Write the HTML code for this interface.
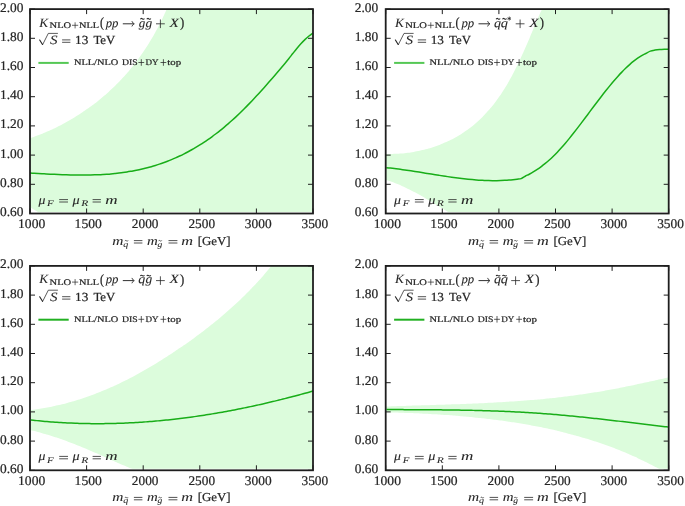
<!DOCTYPE html><html><head><meta charset="utf-8"><style>html,body{margin:0;padding:0;background:#fff;overflow:hidden;}svg{display:block;will-change:transform;}text{font-family:"Liberation Serif",serif;fill:#262626;text-rendering:geometricPrecision;stroke:#262626;stroke-width:0.22px;}text[font-style=italic]{stroke-width:0.08px;}</style></head><body>
<svg width="685" height="506" viewBox="0 0 685 506">
<defs>
<clipPath id="c0"><rect x="30.00" y="9.10" width="282.40" height="202.80"/></clipPath>
<clipPath id="c1"><rect x="385.70" y="9.10" width="282.40" height="202.80"/></clipPath>
<clipPath id="c2"><rect x="30.00" y="265.90" width="282.40" height="202.80"/></clipPath>
<clipPath id="c3"><rect x="385.70" y="265.90" width="282.40" height="202.80"/></clipPath>
</defs>
<g clip-path="url(#c0)"><path d="M24.92,137.97 L30.92,137.97 C31.40,137.80 32.84,137.29 33.79,136.94 C34.75,136.59 35.70,136.24 36.65,135.87 C37.60,135.51 38.55,135.15 39.50,134.77 C40.44,134.40 41.38,134.02 42.32,133.63 C43.26,133.25 44.20,132.85 45.13,132.46 C46.07,132.06 47.00,131.65 47.92,131.24 C48.85,130.83 49.78,130.42 50.70,129.99 C51.62,129.57 52.54,129.14 53.45,128.71 C54.37,128.28 55.28,127.84 56.19,127.39 C57.10,126.94 58.01,126.49 58.91,126.03 C59.81,125.58 60.71,125.11 61.61,124.64 C62.50,124.17 63.40,123.70 64.29,123.22 C65.18,122.74 66.06,122.25 66.94,121.76 C67.83,121.27 68.71,120.77 69.58,120.26 C70.46,119.76 71.33,119.25 72.20,118.74 C73.07,118.22 73.93,117.70 74.79,117.17 C75.65,116.65 76.51,116.12 77.37,115.58 C78.22,115.04 79.07,114.50 79.92,113.95 C80.76,113.40 81.60,112.85 82.44,112.29 C83.28,111.73 84.12,111.16 84.95,110.59 C85.78,110.02 86.60,109.44 87.43,108.86 C88.25,108.28 89.07,107.69 89.88,107.10 C90.70,106.51 91.51,105.91 92.32,105.31 C93.12,104.71 93.92,104.10 94.72,103.49 C95.52,102.87 96.31,102.25 97.10,101.63 C97.89,101.01 98.68,100.38 99.46,99.74 C100.24,99.11 101.02,98.47 101.79,97.82 C102.56,97.18 103.33,96.53 104.09,95.87 C104.86,95.22 105.61,94.56 106.37,93.89 C107.12,93.23 107.87,92.56 108.62,91.88 C109.36,91.21 110.10,90.53 110.84,89.84 C111.57,89.16 112.30,88.47 113.03,87.77 C113.76,87.08 114.48,86.38 115.19,85.67 C115.91,84.97 116.62,84.26 117.33,83.54 C118.04,82.83 118.74,82.11 119.44,81.38 C120.13,80.66 120.82,79.93 121.51,79.19 C122.20,78.46 122.88,77.72 123.56,76.98 C124.23,76.23 124.91,75.49 125.57,74.73 C126.24,73.98 126.90,73.22 127.56,72.46 C128.21,71.70 128.86,70.93 129.51,70.16 C130.15,69.39 130.80,68.61 131.43,67.83 C132.07,67.05 132.70,66.27 133.32,65.48 C133.95,64.69 134.57,63.90 135.18,63.10 C135.80,62.30 136.41,61.50 137.01,60.69 C137.62,59.89 138.22,59.08 138.81,58.26 C139.40,57.45 139.99,56.63 140.58,55.81 C141.16,54.99 141.74,54.16 142.31,53.33 C142.89,52.50 143.46,51.67 144.02,50.83 C144.58,50.00 145.14,49.16 145.69,48.31 C146.25,47.47 146.79,46.62 147.34,45.77 C147.88,44.91 148.42,44.06 148.95,43.20 C149.48,42.34 150.01,41.48 150.53,40.61 C151.05,39.75 151.57,38.88 152.08,38.01 C152.59,37.14 153.10,36.26 153.60,35.38 C154.10,34.50 154.59,33.62 155.09,32.74 C155.58,31.85 156.06,30.96 156.54,30.07 C157.02,29.18 157.50,28.29 157.97,27.39 C158.44,26.49 158.90,25.59 159.36,24.69 C159.82,23.79 160.27,22.88 160.72,21.97 C161.17,21.07 161.62,20.16 162.05,19.24 C162.49,18.33 162.93,17.41 163.35,16.49 C163.78,15.58 164.20,14.65 164.62,13.73 C165.04,12.81 165.45,11.88 165.86,10.95 C166.27,10.02 166.67,9.09 167.06,8.16 C167.46,7.23 167.85,6.29 168.24,5.35 C168.63,4.42 169.01,3.48 169.38,2.54 C169.76,1.59 170.31,0.18 170.49,-0.30 L318.00,-0.90 L318.00,223.50 L45.00,223.50 L45.00,216.00 C43.83,215.33 40.33,213.38 38.00,212.00 C35.67,210.62 32.67,208.78 31.00,207.70 C29.33,206.62 28.50,205.87 28.00,205.50 L22.00,205.50 Z" fill="#dcfcdc"/></g>
<path d="M30.00,173.06 C30.67,173.10 32.70,173.21 34.04,173.28 C35.39,173.35 36.74,173.42 38.09,173.50 C39.43,173.57 40.78,173.64 42.13,173.71 C43.48,173.78 44.82,173.85 46.17,173.92 C47.52,173.99 48.87,174.06 50.21,174.13 C51.56,174.19 52.91,174.26 54.26,174.32 C55.60,174.38 56.95,174.44 58.30,174.50 C59.65,174.56 61.00,174.61 62.34,174.66 C63.69,174.71 65.04,174.76 66.39,174.80 C67.73,174.84 69.08,174.88 70.43,174.91 C71.78,174.94 73.12,174.97 74.47,175.00 C75.82,175.02 77.17,175.04 78.51,175.05 C79.86,175.06 81.21,175.07 82.56,175.07 C83.90,175.07 85.25,175.06 86.60,175.05 C87.95,175.03 89.30,175.01 90.64,174.98 C91.99,174.95 93.34,174.92 94.69,174.87 C96.03,174.83 97.38,174.78 98.73,174.72 C100.08,174.66 101.42,174.59 102.77,174.51 C104.12,174.43 105.47,174.34 106.81,174.24 C108.16,174.14 109.51,174.04 110.86,173.92 C112.20,173.80 113.55,173.67 114.90,173.53 C116.25,173.39 117.60,173.24 118.94,173.08 C120.29,172.91 121.64,172.74 122.99,172.55 C124.33,172.37 125.68,172.17 127.03,171.96 C128.38,171.75 129.72,171.52 131.07,171.29 C132.42,171.05 133.77,170.80 135.11,170.54 C136.46,170.27 137.81,169.99 139.16,169.70 C140.50,169.41 141.85,169.10 143.20,168.78 C144.55,168.46 145.90,168.12 147.24,167.77 C148.59,167.42 149.94,167.05 151.29,166.67 C152.63,166.28 153.98,165.88 155.33,165.46 C156.68,165.05 158.02,164.61 159.37,164.16 C160.72,163.71 162.07,163.24 163.41,162.76 C164.76,162.27 166.11,161.77 167.46,161.25 C168.80,160.72 170.15,160.18 171.50,159.62 C172.85,159.06 174.20,158.49 175.54,157.89 C176.89,157.29 178.24,156.67 179.59,156.04 C180.93,155.40 182.28,154.75 183.63,154.07 C184.98,153.39 186.32,152.70 187.67,151.98 C189.02,151.26 190.37,150.53 191.71,149.77 C193.06,149.01 194.41,148.23 195.76,147.43 C197.10,146.63 198.45,145.81 199.80,144.97 C201.15,144.12 202.50,143.26 203.84,142.37 C205.19,141.48 206.54,140.57 207.89,139.64 C209.23,138.71 210.58,137.75 211.93,136.77 C213.28,135.79 214.62,134.79 215.97,133.77 C217.32,132.74 218.67,131.70 220.01,130.62 C221.36,129.55 222.71,128.45 224.06,127.33 C225.40,126.21 226.75,125.07 228.10,123.90 C229.45,122.73 230.80,121.53 232.14,120.31 C233.49,119.10 234.84,117.85 236.19,116.59 C237.53,115.32 238.88,114.03 240.23,112.72 C241.58,111.41 242.92,110.08 244.27,108.73 C245.62,107.38 246.97,106.01 248.31,104.62 C249.66,103.23 251.01,101.82 252.36,100.40 C253.70,98.97 255.05,97.53 256.40,96.08 C257.75,94.62 259.10,93.15 260.44,91.66 C261.79,90.18 263.14,88.68 264.49,87.16 C265.83,85.65 267.18,84.12 268.53,82.59 C269.88,81.05 271.22,79.50 272.57,77.95 C273.92,76.39 275.27,74.82 276.61,73.25 C277.96,71.67 279.31,70.09 280.66,68.50 C282.00,66.90 283.35,65.30 284.70,63.66 C286.05,62.03 287.40,60.38 288.74,58.70 C290.09,57.02 291.44,55.28 292.79,53.58 C294.13,51.88 295.48,50.14 296.83,48.52 C298.18,46.89 299.52,45.29 300.87,43.81 C302.22,42.33 303.57,40.94 304.91,39.64 C306.26,38.33 307.61,37.12 308.96,36.01 C310.30,34.89 312.33,33.45 313.00,32.94" fill="none" stroke="#18ad18" stroke-width="1.5"/>
<rect x="30.00" y="9.10" width="283.00" height="204.40" fill="none" stroke="#1e1e1e" stroke-width="1.8"/>
<path d="M30.00,9.10h5M313.00,9.10h-5M30.00,38.30h5M313.00,38.30h-5M30.00,67.50h5M313.00,67.50h-5M30.00,96.70h5M313.00,96.70h-5M30.00,125.90h5M313.00,125.90h-5M30.00,155.10h5M313.00,155.10h-5M30.00,184.30h5M313.00,184.30h-5M30.00,213.50h5M313.00,213.50h-5M30.00,9.10v5M30.00,213.50v-5M86.60,9.10v5M86.60,213.50v-5M143.20,9.10v5M143.20,213.50v-5M199.80,9.10v5M199.80,213.50v-5M256.40,9.10v5M256.40,213.50v-5M313.00,9.10v5M313.00,213.50v-5" stroke="#1e1e1e" stroke-width="1.0" fill="none"/>
<path d="M38.40,62.90H68.70" stroke="#55c855" stroke-width="2"/>
<path d="M39.70,40.00L42.50,44.50" fill="none" stroke="#262626" stroke-width="1.15" stroke-linecap="round"/>
<path d="M42.50,44.90L48.30,33.40H57.90" fill="none" stroke="#262626" stroke-width="0.75"/>
<path d="M138.40,62.50h5.8M141.30,59.20v6.6" stroke="#262626" stroke-width="0.75" fill="none"/>
<path d="M160.50,62.50h5.8M163.40,59.20v6.6" stroke="#262626" stroke-width="0.75" fill="none"/>
<path d="M59.20,199.60H68.00M59.20,202.00H68.00" stroke="#262626" stroke-width="0.8" fill="none"/>
<path d="M92.60,199.60H100.90M92.60,202.00H100.90" stroke="#262626" stroke-width="0.8" fill="none"/>
<path d="M62.10,39.90H70.40M62.10,42.30H70.40" stroke="#262626" stroke-width="0.8" fill="none"/>
<path d="M72.00,25.30H78.20M75.10,22.30V28.40" stroke="#262626" stroke-width="0.7" fill="none"/>
<path d="M122.80,23.80H133.60" stroke="#262626" stroke-width="0.95" fill="none"/>
<path d="M132.00,21.50 q0.5,1.7 2.3,2.3 q-1.8,0.6 -2.3,2.3" stroke="#262626" stroke-width="0.85" fill="none" stroke-linecap="round"/>
<path d="M133.90,240.60H142.40M133.90,243.00H142.40" stroke="#262626" stroke-width="0.8" fill="none"/>
<path d="M168.50,240.60H177.40M168.50,243.00H177.40" stroke="#262626" stroke-width="0.8" fill="none"/>
<path d="M124.90,241.10 c0.5,-0.8 1,-0.8 1.6,-0.3 s1.1,0.5 1.6,-0.3" fill="none" stroke="#262626" stroke-width="0.8"/>
<path d="M158.50,241.10 c0.5,-0.8 1,-0.8 1.6,-0.3 s1.1,0.5 1.6,-0.3" fill="none" stroke="#262626" stroke-width="0.8"/>
<g clip-path="url(#c1)"><path d="M380.22,153.97 L386.22,153.97 C386.73,153.97 388.27,154.00 389.29,154.00 C390.32,153.99 391.34,153.98 392.37,153.96 C393.39,153.94 394.42,153.91 395.44,153.86 C396.46,153.82 397.49,153.76 398.51,153.70 C399.53,153.63 400.55,153.55 401.57,153.47 C402.59,153.38 403.60,153.28 404.62,153.17 C405.64,153.06 406.65,152.94 407.66,152.81 C408.67,152.68 409.68,152.54 410.69,152.39 C411.70,152.24 412.71,152.08 413.71,151.90 C414.71,151.73 415.72,151.55 416.71,151.35 C417.71,151.16 418.71,150.95 419.70,150.73 C420.69,150.52 421.68,150.29 422.67,150.06 C423.66,149.82 424.64,149.57 425.62,149.31 C426.60,149.05 427.57,148.78 428.55,148.50 C429.52,148.22 430.49,147.93 431.45,147.63 C432.41,147.33 433.37,147.02 434.33,146.70 C435.29,146.38 436.24,146.04 437.18,145.70 C438.13,145.36 439.07,145.00 440.01,144.64 C440.95,144.28 441.88,143.90 442.81,143.52 C443.73,143.13 444.65,142.74 445.57,142.33 C446.49,141.92 447.40,141.51 448.30,141.08 C449.21,140.65 450.11,140.21 451.00,139.77 C451.89,139.32 452.78,138.86 453.66,138.39 C454.54,137.92 455.42,137.44 456.29,136.95 C457.15,136.46 458.01,135.96 458.87,135.45 C459.72,134.94 460.57,134.42 461.41,133.89 C462.25,133.36 463.09,132.82 463.91,132.27 C464.74,131.72 465.56,131.15 466.37,130.58 C467.18,130.01 467.98,129.43 468.78,128.83 C469.57,128.24 470.36,127.64 471.14,127.02 C471.92,126.41 472.69,125.79 473.46,125.15 C474.22,124.52 474.98,123.88 475.72,123.23 C476.47,122.58 477.21,121.92 477.95,121.25 C478.68,120.58 479.41,119.90 480.13,119.21 C480.85,118.53 481.56,117.83 482.26,117.13 C482.96,116.43 483.66,115.71 484.35,114.99 C485.04,114.27 485.72,113.55 486.39,112.81 C487.07,112.08 487.73,111.33 488.39,110.58 C489.05,109.83 489.70,109.08 490.35,108.31 C490.99,107.55 491.63,106.78 492.26,106.00 C492.89,105.22 493.51,104.44 494.13,103.65 C494.75,102.86 495.35,102.06 495.96,101.26 C496.56,100.46 497.15,99.65 497.74,98.83 C498.33,98.02 498.91,97.20 499.48,96.37 C500.06,95.55 500.63,94.72 501.19,93.88 C501.75,93.05 502.30,92.21 502.85,91.36 C503.39,90.52 503.93,89.67 504.47,88.82 C505.00,87.96 505.53,87.10 506.05,86.24 C506.57,85.38 507.08,84.51 507.59,83.64 C508.10,82.77 508.60,81.90 509.10,81.02 C509.60,80.14 510.09,79.26 510.58,78.37 C511.06,77.49 511.55,76.60 512.02,75.71 C512.50,74.82 512.97,73.92 513.44,73.03 C513.90,72.13 514.37,71.23 514.82,70.33 C515.28,69.42 515.73,68.52 516.18,67.61 C516.63,66.70 517.08,65.79 517.52,64.88 C517.96,63.97 518.40,63.05 518.83,62.14 C519.26,61.22 519.69,60.30 520.12,59.38 C520.55,58.46 520.97,57.54 521.39,56.62 C521.81,55.70 522.23,54.77 522.65,53.85 C523.06,52.92 523.48,52.00 523.89,51.07 C524.30,50.14 524.70,49.21 525.11,48.29 C525.52,47.36 525.92,46.43 526.32,45.50 C526.73,44.57 527.13,43.64 527.53,42.71 C527.92,41.78 528.32,40.85 528.72,39.92 C529.12,39.00 529.51,38.07 529.91,37.14 C530.30,36.21 530.69,35.28 531.09,34.35 C531.48,33.43 531.87,32.50 532.26,31.57 C532.66,30.65 533.05,29.72 533.44,28.80 C533.83,27.88 534.22,26.95 534.62,26.03 C535.01,25.11 535.40,24.19 535.79,23.27 C536.19,22.36 536.58,21.44 536.98,20.53 C537.37,19.61 537.77,18.70 538.16,17.79 C538.56,16.88 538.96,15.97 539.36,15.07 C539.76,14.16 540.16,13.26 540.56,12.36 C540.96,11.46 541.37,10.56 541.77,9.67 C542.18,8.78 542.59,7.89 543.00,7.00 C543.41,6.11 544.04,4.79 544.24,4.35 L673.70,-0.90 L673.70,223.50 L454.96,223.50 L454.96,216.06 C454.51,215.79 453.19,215.00 452.30,214.47 C451.42,213.94 450.54,213.40 449.65,212.87 C448.77,212.33 447.89,211.79 447.01,211.25 C446.13,210.72 445.24,210.18 444.36,209.64 C443.48,209.10 442.60,208.55 441.72,208.01 C440.83,207.47 439.95,206.93 439.07,206.39 C438.18,205.85 437.30,205.31 436.42,204.78 C435.53,204.24 434.65,203.70 433.76,203.17 C432.87,202.63 431.99,202.10 431.10,201.57 C430.21,201.04 429.32,200.51 428.43,199.98 C427.54,199.45 426.64,198.93 425.75,198.41 C424.85,197.89 423.96,197.37 423.06,196.86 C422.16,196.35 421.26,195.84 420.36,195.33 C419.46,194.83 418.55,194.33 417.64,193.83 C416.74,193.34 415.83,192.85 414.91,192.36 C414.00,191.88 413.09,191.40 412.17,190.93 C411.25,190.45 410.33,189.99 409.40,189.52 C408.48,189.06 407.55,188.61 406.62,188.16 C405.69,187.72 404.76,187.28 403.82,186.84 C402.88,186.41 401.94,185.99 400.99,185.57 C400.05,185.16 399.10,184.75 398.14,184.35 C397.19,183.95 396.23,183.56 395.27,183.18 C394.31,182.80 393.34,182.43 392.37,182.06 C391.40,181.70 390.42,181.35 389.44,181.01 C388.46,180.67 386.98,180.18 386.48,180.01 L380.48,180.01 Z" fill="#dcfcdc"/></g>
<path d="M386.30,167.66 C386.98,167.73 389.03,167.94 390.39,168.09 C391.75,168.24 393.11,168.40 394.48,168.57 C395.84,168.73 397.20,168.91 398.56,169.09 C399.93,169.26 401.29,169.45 402.65,169.64 C404.01,169.83 405.38,170.02 406.74,170.22 C408.10,170.42 409.46,170.62 410.83,170.83 C412.19,171.03 413.55,171.24 414.92,171.46 C416.28,171.67 417.64,171.88 419.00,172.10 C420.37,172.32 421.73,172.54 423.09,172.76 C424.45,172.97 425.82,173.19 427.18,173.42 C428.54,173.64 429.90,173.86 431.27,174.08 C432.63,174.29 433.99,174.51 435.35,174.73 C436.72,174.95 438.08,175.16 439.44,175.38 C440.81,175.59 442.17,175.80 443.53,176.01 C444.89,176.22 446.26,176.42 447.62,176.62 C448.98,176.82 450.34,177.02 451.71,177.21 C453.07,177.40 454.43,177.59 455.79,177.77 C457.16,177.95 458.52,178.12 459.88,178.29 C461.24,178.46 462.61,178.62 463.97,178.78 C465.33,178.93 466.69,179.08 468.06,179.22 C469.42,179.35 470.78,179.49 472.15,179.61 C473.51,179.73 474.87,179.84 476.23,179.94 C477.60,180.04 478.96,180.14 480.32,180.22 C481.68,180.30 483.05,180.37 484.41,180.43 C485.77,180.49 487.13,180.54 488.50,180.57 C489.86,180.61 491.22,180.63 492.58,180.64 C493.95,180.65 495.31,180.65 496.67,180.63 C498.04,180.61 499.40,180.58 500.76,180.53 C502.12,180.49 503.49,180.43 504.85,180.35 C506.21,180.27 507.57,180.18 508.94,180.07 C510.30,179.96 511.66,179.83 513.02,179.69 C514.39,179.55 515.75,179.39 517.11,179.21 C518.47,179.03 519.85,179.11 521.20,178.61 C522.55,178.12 523.88,176.97 525.22,176.24 C526.55,175.52 527.89,174.95 529.23,174.24 C530.57,173.52 531.91,172.76 533.25,171.95 C534.59,171.14 535.93,170.29 537.26,169.39 C538.60,168.48 539.94,167.53 541.28,166.54 C542.62,165.54 543.96,164.49 545.30,163.39 C546.64,162.29 547.97,161.15 549.31,159.95 C550.65,158.75 551.99,157.50 553.33,156.20 C554.67,154.90 556.01,153.55 557.35,152.15 C558.68,150.75 560.02,149.29 561.36,147.80 C562.70,146.30 564.04,144.76 565.38,143.18 C566.72,141.61 568.05,139.99 569.39,138.35 C570.73,136.70 572.07,135.03 573.41,133.33 C574.75,131.63 576.09,129.90 577.43,128.16 C578.76,126.42 580.10,124.66 581.44,122.89 C582.78,121.12 584.12,119.33 585.46,117.54 C586.80,115.76 588.14,113.96 589.47,112.17 C590.81,110.37 592.15,108.58 593.49,106.79 C594.83,105.01 596.17,103.23 597.51,101.47 C598.85,99.70 600.18,97.95 601.52,96.22 C602.86,94.49 604.20,92.77 605.54,91.09 C606.88,89.40 608.22,87.73 609.55,86.10 C610.89,84.47 612.23,82.86 613.57,81.29 C614.91,79.73 616.25,78.19 617.59,76.70 C618.93,75.22 620.26,73.76 621.60,72.36 C622.94,70.97 624.28,69.61 625.62,68.31 C626.96,67.01 628.30,65.76 629.64,64.57 C630.97,63.38 632.31,62.24 633.65,61.18 C634.99,60.11 636.33,59.11 637.67,58.18 C639.01,57.24 640.35,56.38 641.68,55.59 C643.02,54.80 644.25,54.20 645.70,53.46 C647.15,52.71 648.81,51.69 650.36,51.13 C651.91,50.56 653.47,50.34 655.02,50.06 C656.57,49.78 658.13,49.61 659.68,49.47 C661.23,49.32 662.79,49.26 664.34,49.20 C665.89,49.14 668.22,49.13 669.00,49.11" fill="none" stroke="#18ad18" stroke-width="1.5"/>
<rect x="385.70" y="9.10" width="283.00" height="204.40" fill="none" stroke="#1e1e1e" stroke-width="1.8"/>
<path d="M385.70,9.10h5M668.70,9.10h-5M385.70,38.30h5M668.70,38.30h-5M385.70,67.50h5M668.70,67.50h-5M385.70,96.70h5M668.70,96.70h-5M385.70,125.90h5M668.70,125.90h-5M385.70,155.10h5M668.70,155.10h-5M385.70,184.30h5M668.70,184.30h-5M385.70,213.50h5M668.70,213.50h-5M385.70,9.10v5M385.70,213.50v-5M442.30,9.10v5M442.30,213.50v-5M498.90,9.10v5M498.90,213.50v-5M555.50,9.10v5M555.50,213.50v-5M612.10,9.10v5M612.10,213.50v-5M668.70,9.10v5M668.70,213.50v-5" stroke="#1e1e1e" stroke-width="1.0" fill="none"/>
<path d="M394.10,62.90H424.40" stroke="#55c855" stroke-width="2"/>
<path d="M395.40,40.00L398.20,44.50" fill="none" stroke="#262626" stroke-width="1.15" stroke-linecap="round"/>
<path d="M398.20,44.90L404.00,33.40H413.60" fill="none" stroke="#262626" stroke-width="0.75"/>
<path d="M494.10,62.50h5.8M497.00,59.20v6.6" stroke="#262626" stroke-width="0.75" fill="none"/>
<path d="M516.20,62.50h5.8M519.10,59.20v6.6" stroke="#262626" stroke-width="0.75" fill="none"/>
<path d="M414.90,199.60H423.70M414.90,202.00H423.70" stroke="#262626" stroke-width="0.8" fill="none"/>
<path d="M448.30,199.60H456.60M448.30,202.00H456.60" stroke="#262626" stroke-width="0.8" fill="none"/>
<path d="M417.80,39.90H426.10M417.80,42.30H426.10" stroke="#262626" stroke-width="0.8" fill="none"/>
<path d="M427.70,25.30H433.90M430.80,22.30V28.40" stroke="#262626" stroke-width="0.7" fill="none"/>
<path d="M478.50,23.80H489.30" stroke="#262626" stroke-width="0.95" fill="none"/>
<path d="M487.70,21.50 q0.5,1.7 2.3,2.3 q-1.8,0.6 -2.3,2.3" stroke="#262626" stroke-width="0.85" fill="none" stroke-linecap="round"/>
<path d="M489.60,240.60H498.10M489.60,243.00H498.10" stroke="#262626" stroke-width="0.8" fill="none"/>
<path d="M524.20,240.60H533.10M524.20,243.00H533.10" stroke="#262626" stroke-width="0.8" fill="none"/>
<path d="M480.60,241.10 c0.5,-0.8 1,-0.8 1.6,-0.3 s1.1,0.5 1.6,-0.3" fill="none" stroke="#262626" stroke-width="0.8"/>
<path d="M514.20,241.10 c0.5,-0.8 1,-0.8 1.6,-0.3 s1.1,0.5 1.6,-0.3" fill="none" stroke="#262626" stroke-width="0.8"/>
<g clip-path="url(#c2)"><path d="M24.75,410.16 L30.75,410.16 C31.26,410.09 32.77,409.90 33.78,409.76 C34.78,409.62 35.79,409.47 36.79,409.32 C37.80,409.17 38.80,409.02 39.80,408.86 C40.80,408.69 41.80,408.53 42.79,408.35 C43.79,408.18 44.79,408.00 45.78,407.82 C46.77,407.64 47.77,407.45 48.76,407.25 C49.75,407.06 50.74,406.86 51.73,406.65 C52.71,406.45 53.70,406.23 54.68,406.02 C55.67,405.80 56.65,405.58 57.63,405.35 C58.61,405.13 59.59,404.89 60.57,404.66 C61.55,404.42 62.53,404.17 63.50,403.93 C64.48,403.68 65.45,403.42 66.42,403.17 C67.39,402.91 68.36,402.64 69.33,402.37 C70.30,402.11 71.26,401.83 72.23,401.55 C73.19,401.27 74.15,400.99 75.12,400.70 C76.08,400.41 77.04,400.11 77.99,399.82 C78.95,399.52 79.91,399.21 80.86,398.90 C81.82,398.59 82.77,398.28 83.72,397.96 C84.67,397.64 85.62,397.32 86.56,396.99 C87.51,396.66 88.46,396.32 89.40,395.98 C90.34,395.65 91.28,395.30 92.22,394.95 C93.16,394.60 94.10,394.25 95.04,393.89 C95.97,393.54 96.91,393.17 97.84,392.81 C98.77,392.44 99.70,392.07 100.63,391.69 C101.56,391.32 102.49,390.94 103.41,390.55 C104.34,390.17 105.26,389.78 106.18,389.38 C107.11,388.99 108.03,388.59 108.94,388.19 C109.86,387.79 110.78,387.38 111.69,386.97 C112.61,386.56 113.52,386.15 114.43,385.73 C115.35,385.31 116.26,384.89 117.16,384.46 C118.07,384.04 118.98,383.61 119.88,383.17 C120.79,382.74 121.69,382.30 122.59,381.86 C123.49,381.42 124.39,380.97 125.29,380.52 C126.19,380.07 127.08,379.62 127.98,379.16 C128.87,378.71 129.77,378.25 130.66,377.78 C131.55,377.32 132.44,376.85 133.33,376.38 C134.21,375.91 135.10,375.44 135.99,374.96 C136.87,374.48 137.75,374.00 138.63,373.52 C139.52,373.04 140.40,372.55 141.27,372.06 C142.15,371.57 143.03,371.07 143.90,370.58 C144.78,370.08 145.65,369.58 146.52,369.08 C147.39,368.58 148.26,368.07 149.13,367.56 C150.00,367.05 150.87,366.54 151.73,366.03 C152.60,365.51 153.46,365.00 154.32,364.48 C155.19,363.96 156.05,363.43 156.90,362.91 C157.76,362.38 158.62,361.86 159.48,361.32 C160.33,360.79 161.19,360.26 162.04,359.73 C162.89,359.19 163.74,358.65 164.59,358.11 C165.44,357.57 166.29,357.03 167.14,356.48 C167.98,355.93 168.83,355.39 169.67,354.84 C170.51,354.29 171.36,353.73 172.20,353.18 C173.04,352.62 173.87,352.06 174.71,351.50 C175.55,350.94 176.38,350.38 177.22,349.82 C178.05,349.25 178.88,348.68 179.71,348.12 C180.55,347.55 181.37,346.97 182.20,346.40 C183.03,345.83 183.86,345.25 184.68,344.67 C185.50,344.10 186.33,343.52 187.15,342.93 C187.97,342.35 188.79,341.77 189.61,341.18 C190.43,340.59 191.24,340.01 192.06,339.42 C192.87,338.83 193.69,338.23 194.50,337.64 C195.31,337.04 196.12,336.45 196.93,335.85 C197.74,335.25 198.54,334.65 199.35,334.05 C200.15,333.44 200.96,332.84 201.76,332.23 C202.56,331.62 203.36,331.01 204.16,330.40 C204.95,329.79 205.75,329.17 206.54,328.56 C207.34,327.94 208.13,327.32 208.92,326.70 C209.71,326.08 210.50,325.46 211.28,324.83 C212.07,324.21 212.85,323.58 213.63,322.95 C214.42,322.32 215.20,321.68 215.97,321.05 C216.75,320.41 217.53,319.77 218.30,319.13 C219.07,318.49 219.84,317.85 220.61,317.21 C221.38,316.56 222.15,315.91 222.91,315.26 C223.68,314.61 224.44,313.96 225.20,313.30 C225.96,312.65 226.72,311.99 227.47,311.33 C228.23,310.67 228.98,310.01 229.73,309.34 C230.48,308.67 231.23,308.00 231.97,307.33 C232.72,306.66 233.46,305.99 234.20,305.31 C234.94,304.63 235.68,303.95 236.41,303.27 C237.15,302.59 237.88,301.90 238.61,301.22 C239.34,300.53 240.07,299.84 240.79,299.14 C241.51,298.45 242.24,297.75 242.95,297.05 C243.67,296.35 244.39,295.65 245.10,294.94 C245.82,294.24 246.53,293.53 247.23,292.82 C247.94,292.11 248.64,291.39 249.35,290.67 C250.05,289.96 250.75,289.23 251.44,288.51 C252.14,287.79 252.83,287.06 253.52,286.33 C254.21,285.60 254.89,284.87 255.58,284.13 C256.26,283.39 256.94,282.65 257.62,281.91 C258.29,281.17 258.97,280.42 259.64,279.67 C260.31,278.92 260.97,278.17 261.64,277.41 C262.30,276.65 262.96,275.89 263.62,275.13 C264.27,274.37 264.93,273.60 265.58,272.83 C266.23,272.06 266.87,271.29 267.51,270.51 C268.16,269.73 268.80,268.95 269.43,268.17 C270.07,267.39 270.70,266.60 271.33,265.81 C271.96,265.02 272.58,264.22 273.20,263.42 C273.82,262.62 274.75,261.42 275.05,261.02 L318.00,255.90 L318.00,480.30 L146.08,480.30 L146.08,473.79 C145.60,473.63 144.16,473.18 143.20,472.87 C142.24,472.56 141.29,472.24 140.33,471.91 C139.38,471.58 138.43,471.24 137.49,470.90 C136.54,470.56 135.60,470.21 134.66,469.86 C133.72,469.50 132.78,469.14 131.84,468.78 C130.90,468.41 129.97,468.04 129.04,467.67 C128.10,467.29 127.17,466.91 126.24,466.53 C125.32,466.14 124.39,465.75 123.46,465.36 C122.54,464.97 121.61,464.57 120.69,464.17 C119.77,463.77 118.84,463.37 117.92,462.97 C117.00,462.56 116.08,462.16 115.16,461.75 C114.25,461.34 113.33,460.93 112.41,460.52 C111.49,460.11 110.57,459.69 109.66,459.28 C108.74,458.86 107.82,458.45 106.91,458.03 C105.99,457.62 105.07,457.21 104.16,456.79 C103.24,456.38 102.32,455.96 101.40,455.55 C100.49,455.14 99.57,454.73 98.65,454.32 C97.73,453.91 96.81,453.50 95.89,453.09 C94.97,452.68 94.05,452.28 93.13,451.88 C92.21,451.47 91.28,451.07 90.36,450.68 C89.44,450.28 88.51,449.88 87.59,449.49 C86.66,449.09 85.74,448.70 84.81,448.31 C83.88,447.93 82.95,447.54 82.02,447.16 C81.09,446.77 80.16,446.39 79.23,446.02 C78.30,445.64 77.37,445.26 76.43,444.89 C75.50,444.52 74.56,444.15 73.63,443.79 C72.69,443.42 71.75,443.06 70.81,442.70 C69.87,442.34 68.93,441.99 67.99,441.64 C67.05,441.29 66.10,440.94 65.16,440.59 C64.21,440.25 63.27,439.91 62.32,439.57 C61.37,439.24 60.42,438.90 59.47,438.58 C58.52,438.25 57.57,437.92 56.61,437.60 C55.66,437.28 54.70,436.97 53.75,436.66 C52.79,436.35 51.83,436.04 50.87,435.74 C49.91,435.44 48.95,435.14 47.98,434.84 C47.02,434.55 46.05,434.26 45.08,433.98 C44.11,433.70 43.14,433.42 42.17,433.15 C41.20,432.87 40.23,432.61 39.25,432.34 C38.27,432.08 37.30,431.83 36.32,431.57 C35.33,431.32 34.35,431.08 33.37,430.84 C32.38,430.59 30.90,430.25 30.41,430.13 L24.41,430.13 Z" fill="#dcfcdc"/></g>
<path d="M30.90,419.99 C31.57,420.06 33.59,420.29 34.93,420.43 C36.27,420.57 37.62,420.70 38.96,420.83 C40.30,420.96 41.65,421.09 42.99,421.21 C44.33,421.33 45.68,421.45 47.02,421.56 C48.36,421.68 49.71,421.78 51.05,421.89 C52.39,421.99 53.74,422.09 55.08,422.18 C56.42,422.28 57.77,422.37 59.11,422.45 C60.45,422.54 61.80,422.62 63.14,422.69 C64.48,422.77 65.83,422.84 67.17,422.91 C68.51,422.97 69.86,423.04 71.20,423.09 C72.54,423.15 73.89,423.21 75.23,423.25 C76.57,423.30 77.92,423.35 79.26,423.39 C80.60,423.43 81.95,423.46 83.29,423.49 C84.63,423.53 85.98,423.55 87.32,423.57 C88.66,423.60 90.01,423.62 91.35,423.63 C92.69,423.64 94.04,423.65 95.38,423.66 C96.72,423.66 98.07,423.66 99.41,423.66 C100.75,423.66 102.10,423.65 103.44,423.64 C104.78,423.62 106.13,423.61 107.47,423.59 C108.81,423.57 110.16,423.54 111.50,423.51 C112.84,423.48 114.19,423.45 115.53,423.41 C116.87,423.38 118.22,423.33 119.56,423.29 C120.90,423.24 122.25,423.19 123.59,423.14 C124.93,423.08 126.28,423.03 127.62,422.96 C128.96,422.90 130.31,422.84 131.65,422.77 C132.99,422.69 134.34,422.62 135.68,422.54 C137.02,422.46 138.37,422.38 139.71,422.29 C141.05,422.21 142.40,422.12 143.74,422.02 C145.08,421.93 146.43,421.83 147.77,421.73 C149.11,421.62 150.46,421.52 151.80,421.41 C153.14,421.30 154.49,421.18 155.83,421.06 C157.17,420.95 158.52,420.82 159.86,420.70 C161.20,420.57 162.55,420.44 163.89,420.31 C165.23,420.18 166.58,420.04 167.92,419.90 C169.26,419.75 170.61,419.61 171.95,419.46 C173.29,419.31 174.64,419.16 175.98,419.00 C177.32,418.85 178.67,418.69 180.01,418.52 C181.35,418.36 182.70,418.19 184.04,418.02 C185.38,417.85 186.73,417.67 188.07,417.49 C189.41,417.31 190.76,417.13 192.10,416.94 C193.44,416.76 194.79,416.57 196.13,416.37 C197.47,416.18 198.82,415.98 200.16,415.78 C201.50,415.58 202.85,415.38 204.19,415.17 C205.53,414.96 206.88,414.75 208.22,414.54 C209.56,414.32 210.91,414.10 212.25,413.88 C213.59,413.66 214.94,413.43 216.28,413.20 C217.62,412.97 218.97,412.74 220.31,412.51 C221.65,412.27 223.00,412.03 224.34,411.79 C225.68,411.54 227.03,411.30 228.37,411.05 C229.71,410.80 231.06,410.54 232.40,410.29 C233.74,410.03 235.09,409.77 236.43,409.51 C237.77,409.24 239.12,408.98 240.46,408.71 C241.80,408.44 243.15,408.16 244.49,407.89 C245.83,407.61 247.18,407.33 248.52,407.05 C249.86,406.76 251.21,406.48 252.55,406.19 C253.89,405.90 255.24,405.60 256.58,405.31 C257.92,405.01 259.27,404.71 260.61,404.41 C261.95,404.11 263.30,403.80 264.64,403.49 C265.98,403.18 267.33,402.87 268.67,402.56 C270.01,402.24 271.36,401.92 272.70,401.60 C274.04,401.28 275.39,400.95 276.73,400.63 C278.07,400.30 279.42,399.97 280.76,399.63 C282.10,399.30 283.45,398.96 284.79,398.62 C286.13,398.28 287.48,397.94 288.82,397.59 C290.16,397.25 291.51,396.90 292.85,396.55 C294.19,396.20 295.54,395.84 296.88,395.48 C298.22,395.12 299.57,394.76 300.91,394.40 C302.25,394.04 303.60,393.67 304.94,393.30 C306.28,392.93 307.63,392.56 308.97,392.18 C310.31,391.81 312.33,391.24 313.00,391.05" fill="none" stroke="#18ad18" stroke-width="1.5"/>
<rect x="30.00" y="265.90" width="283.00" height="204.40" fill="none" stroke="#1e1e1e" stroke-width="1.8"/>
<path d="M30.00,265.90h5M313.00,265.90h-5M30.00,295.10h5M313.00,295.10h-5M30.00,324.30h5M313.00,324.30h-5M30.00,353.50h5M313.00,353.50h-5M30.00,382.70h5M313.00,382.70h-5M30.00,411.90h5M313.00,411.90h-5M30.00,441.10h5M313.00,441.10h-5M30.00,470.30h5M313.00,470.30h-5M30.00,265.90v5M30.00,470.30v-5M86.60,265.90v5M86.60,470.30v-5M143.20,265.90v5M143.20,470.30v-5M199.80,265.90v5M199.80,470.30v-5M256.40,265.90v5M256.40,470.30v-5M313.00,265.90v5M313.00,470.30v-5" stroke="#1e1e1e" stroke-width="1.0" fill="none"/>
<path d="M38.40,319.70H68.70" stroke="#22b022" stroke-width="2"/>
<path d="M39.70,296.80L42.50,301.30" fill="none" stroke="#262626" stroke-width="1.15" stroke-linecap="round"/>
<path d="M42.50,301.70L48.30,290.20H57.90" fill="none" stroke="#262626" stroke-width="0.75"/>
<path d="M138.40,319.30h5.8M141.30,316.00v6.6" stroke="#262626" stroke-width="0.75" fill="none"/>
<path d="M160.50,319.30h5.8M163.40,316.00v6.6" stroke="#262626" stroke-width="0.75" fill="none"/>
<path d="M59.20,456.40H68.00M59.20,458.80H68.00" stroke="#262626" stroke-width="0.8" fill="none"/>
<path d="M92.60,456.40H100.90M92.60,458.80H100.90" stroke="#262626" stroke-width="0.8" fill="none"/>
<path d="M62.10,296.70H70.40M62.10,299.10H70.40" stroke="#262626" stroke-width="0.8" fill="none"/>
<path d="M72.00,282.10H78.20M75.10,279.10V285.20" stroke="#262626" stroke-width="0.7" fill="none"/>
<path d="M122.80,280.60H133.60" stroke="#262626" stroke-width="0.95" fill="none"/>
<path d="M132.00,278.30 q0.5,1.7 2.3,2.3 q-1.8,0.6 -2.3,2.3" stroke="#262626" stroke-width="0.85" fill="none" stroke-linecap="round"/>
<path d="M133.90,497.40H142.40M133.90,499.80H142.40" stroke="#262626" stroke-width="0.8" fill="none"/>
<path d="M168.50,497.40H177.40M168.50,499.80H177.40" stroke="#262626" stroke-width="0.8" fill="none"/>
<path d="M124.90,497.90 c0.5,-0.8 1,-0.8 1.6,-0.3 s1.1,0.5 1.6,-0.3" fill="none" stroke="#262626" stroke-width="0.8"/>
<path d="M158.50,497.90 c0.5,-0.8 1,-0.8 1.6,-0.3 s1.1,0.5 1.6,-0.3" fill="none" stroke="#262626" stroke-width="0.8"/>
<g clip-path="url(#c3)"><path d="M380.92,406.53 L386.92,406.53 C387.42,406.52 388.93,406.46 389.93,406.42 C390.94,406.39 391.94,406.35 392.95,406.31 C393.95,406.28 394.96,406.24 395.96,406.21 C396.97,406.17 397.97,406.14 398.98,406.10 C399.98,406.07 400.99,406.04 402.00,406.00 C403.00,405.97 404.01,405.94 405.01,405.90 C406.02,405.87 407.03,405.84 408.03,405.80 C409.04,405.77 410.05,405.74 411.05,405.71 C412.06,405.68 413.07,405.64 414.07,405.61 C415.08,405.58 416.09,405.55 417.09,405.52 C418.10,405.49 419.11,405.45 420.12,405.42 C421.12,405.39 422.13,405.36 423.14,405.33 C424.15,405.30 425.15,405.27 426.16,405.24 C427.17,405.20 428.18,405.17 429.18,405.14 C430.19,405.11 431.20,405.08 432.21,405.05 C433.21,405.02 434.22,404.98 435.23,404.95 C436.24,404.92 437.25,404.89 438.25,404.86 C439.26,404.82 440.27,404.79 441.28,404.76 C442.29,404.73 443.29,404.69 444.30,404.66 C445.31,404.63 446.32,404.59 447.33,404.56 C448.34,404.53 449.34,404.49 450.35,404.46 C451.36,404.42 452.37,404.39 453.38,404.35 C454.39,404.32 455.39,404.28 456.40,404.25 C457.41,404.21 458.42,404.17 459.43,404.14 C460.44,404.10 461.44,404.06 462.45,404.02 C463.46,403.99 464.47,403.95 465.48,403.91 C466.48,403.87 467.49,403.83 468.50,403.79 C469.51,403.75 470.52,403.71 471.53,403.67 C472.53,403.62 473.54,403.58 474.55,403.54 C475.56,403.50 476.57,403.45 477.57,403.41 C478.58,403.36 479.59,403.32 480.60,403.27 C481.61,403.23 482.61,403.18 483.62,403.13 C484.63,403.08 485.64,403.03 486.64,402.98 C487.65,402.94 488.66,402.88 489.67,402.83 C490.67,402.78 491.68,402.73 492.69,402.68 C493.70,402.62 494.70,402.57 495.71,402.51 C496.72,402.46 497.72,402.40 498.73,402.35 C499.74,402.29 500.74,402.23 501.75,402.17 C502.76,402.11 503.76,402.05 504.77,401.99 C505.78,401.93 506.78,401.86 507.79,401.80 C508.80,401.74 509.80,401.67 510.81,401.61 C511.81,401.54 512.82,401.47 513.83,401.40 C514.83,401.33 515.84,401.26 516.84,401.19 C517.85,401.12 518.85,401.05 519.86,400.97 C520.86,400.90 521.87,400.82 522.87,400.75 C523.88,400.67 524.88,400.59 525.89,400.51 C526.89,400.43 527.90,400.35 528.90,400.27 C529.90,400.19 530.91,400.10 531.91,400.02 C532.92,399.93 533.92,399.84 534.92,399.76 C535.93,399.67 536.93,399.58 537.93,399.48 C538.93,399.39 539.94,399.30 540.94,399.20 C541.94,399.11 542.94,399.01 543.95,398.91 C544.95,398.81 545.95,398.71 546.95,398.61 C547.95,398.51 548.96,398.41 549.96,398.30 C550.96,398.20 551.96,398.09 552.96,397.98 C553.96,397.87 554.96,397.76 555.96,397.65 C556.96,397.54 557.96,397.43 558.96,397.31 C559.96,397.20 560.96,397.08 561.96,396.96 C562.96,396.84 563.96,396.72 564.96,396.60 C565.96,396.47 566.96,396.35 567.96,396.22 C568.96,396.10 569.96,395.97 570.95,395.84 C571.95,395.71 572.95,395.58 573.95,395.45 C574.94,395.31 575.94,395.18 576.94,395.04 C577.94,394.90 578.93,394.77 579.93,394.62 C580.93,394.48 581.92,394.34 582.92,394.20 C583.92,394.05 584.91,393.91 585.91,393.76 C586.90,393.61 587.90,393.46 588.89,393.31 C589.89,393.16 590.88,393.00 591.88,392.85 C592.87,392.69 593.87,392.53 594.86,392.37 C595.85,392.21 596.85,392.05 597.84,391.89 C598.83,391.72 599.83,391.56 600.82,391.39 C601.81,391.22 602.81,391.05 603.80,390.88 C604.79,390.71 605.78,390.53 606.77,390.36 C607.77,390.18 608.76,390.00 609.75,389.82 C610.74,389.64 611.73,389.46 612.72,389.28 C613.71,389.09 614.70,388.91 615.69,388.72 C616.68,388.53 617.67,388.34 618.66,388.15 C619.65,387.96 620.64,387.76 621.63,387.57 C622.62,387.37 623.60,387.17 624.59,386.97 C625.58,386.77 626.57,386.57 627.56,386.37 C628.54,386.16 629.53,385.96 630.52,385.75 C631.51,385.55 632.49,385.34 633.48,385.13 C634.47,384.92 635.45,384.71 636.44,384.50 C637.43,384.29 638.41,384.08 639.40,383.87 C640.39,383.65 641.37,383.44 642.36,383.23 C643.34,383.01 644.33,382.80 645.31,382.58 C646.30,382.37 647.29,382.15 648.27,381.93 C649.26,381.72 650.24,381.50 651.23,381.28 C652.21,381.06 653.20,380.85 654.18,380.63 C655.17,380.41 656.16,380.19 657.14,379.97 C658.13,379.76 659.11,379.54 660.10,379.32 C661.08,379.10 662.07,378.89 663.05,378.67 C664.04,378.45 665.02,378.23 666.01,378.02 C666.99,377.80 668.47,377.48 668.97,377.37 L673.70,255.90 L673.70,480.30 L667.31,480.30 L667.31,473.59 C666.87,473.33 665.55,472.56 664.67,472.06 C663.79,471.55 662.91,471.05 662.03,470.55 C661.15,470.05 660.26,469.56 659.37,469.07 C658.49,468.58 657.60,468.10 656.71,467.62 C655.82,467.14 654.93,466.66 654.03,466.19 C653.14,465.71 652.24,465.25 651.35,464.78 C650.45,464.32 649.55,463.86 648.65,463.40 C647.75,462.95 646.85,462.50 645.94,462.05 C645.04,461.60 644.13,461.16 643.23,460.72 C642.32,460.28 641.41,459.84 640.50,459.41 C639.59,458.98 638.68,458.55 637.77,458.13 C636.85,457.70 635.94,457.28 635.02,456.87 C634.11,456.45 633.19,456.04 632.27,455.63 C631.35,455.23 630.43,454.82 629.51,454.42 C628.59,454.02 627.66,453.62 626.74,453.23 C625.81,452.84 624.89,452.45 623.96,452.06 C623.03,451.68 622.10,451.30 621.17,450.92 C620.24,450.54 619.31,450.17 618.38,449.80 C617.44,449.43 616.51,449.06 615.57,448.70 C614.64,448.34 613.70,447.98 612.76,447.62 C611.82,447.26 610.88,446.91 609.94,446.56 C609.00,446.22 608.06,445.87 607.11,445.53 C606.17,445.19 605.22,444.85 604.28,444.52 C603.33,444.18 602.38,443.85 601.43,443.52 C600.48,443.19 599.53,442.87 598.58,442.55 C597.63,442.23 596.68,441.91 595.73,441.60 C594.77,441.28 593.82,440.97 592.86,440.67 C591.91,440.36 590.95,440.06 589.99,439.76 C589.03,439.45 588.07,439.16 587.11,438.86 C586.15,438.57 585.19,438.28 584.23,437.99 C583.27,437.70 582.30,437.42 581.34,437.14 C580.37,436.86 579.41,436.58 578.44,436.31 C577.48,436.03 576.51,435.76 575.54,435.49 C574.57,435.22 573.60,434.96 572.63,434.69 C571.66,434.43 570.69,434.17 569.72,433.92 C568.74,433.66 567.77,433.41 566.80,433.16 C565.82,432.91 564.85,432.66 563.87,432.42 C562.89,432.17 561.92,431.93 560.94,431.69 C559.96,431.45 558.98,431.22 558.00,430.99 C557.02,430.75 556.04,430.52 555.06,430.30 C554.08,430.07 553.10,429.85 552.12,429.62 C551.13,429.40 550.15,429.18 549.17,428.97 C548.18,428.75 547.20,428.54 546.21,428.33 C545.23,428.12 544.24,427.91 543.25,427.71 C542.26,427.50 541.28,427.30 540.29,427.10 C539.30,426.90 538.31,426.71 537.32,426.51 C536.33,426.32 535.34,426.13 534.35,425.94 C533.36,425.75 532.36,425.56 531.37,425.38 C530.38,425.20 529.39,425.02 528.39,424.84 C527.40,424.66 526.41,424.48 525.41,424.31 C524.42,424.13 523.42,423.96 522.42,423.79 C521.43,423.63 520.43,423.46 519.44,423.30 C518.44,423.13 517.44,422.97 516.44,422.81 C515.45,422.65 514.45,422.49 513.45,422.34 C512.45,422.18 511.45,422.03 510.45,421.88 C509.45,421.73 508.45,421.59 507.45,421.44 C506.45,421.29 505.45,421.15 504.45,421.01 C503.44,420.87 502.44,420.73 501.44,420.59 C500.44,420.46 499.44,420.32 498.43,420.19 C497.43,420.06 496.43,419.93 495.42,419.80 C494.42,419.67 493.42,419.54 492.41,419.42 C491.41,419.30 490.40,419.17 489.40,419.05 C488.40,418.93 487.39,418.82 486.39,418.70 C485.38,418.59 484.38,418.47 483.37,418.36 C482.36,418.25 481.36,418.14 480.35,418.03 C479.35,417.92 478.34,417.81 477.33,417.71 C476.33,417.61 475.32,417.50 474.32,417.40 C473.31,417.30 472.30,417.20 471.30,417.10 C470.29,417.01 469.28,416.91 468.28,416.82 C467.27,416.72 466.26,416.63 465.25,416.54 C464.25,416.45 463.24,416.36 462.23,416.28 C461.23,416.19 460.22,416.11 459.21,416.02 C458.21,415.94 457.20,415.86 456.19,415.78 C455.18,415.70 454.18,415.62 453.17,415.54 C452.16,415.46 451.16,415.39 450.15,415.31 C449.14,415.24 448.13,415.17 447.13,415.10 C446.12,415.02 445.11,414.96 444.11,414.89 C443.10,414.82 442.09,414.75 441.09,414.69 C440.08,414.62 439.08,414.56 438.07,414.50 C437.06,414.43 436.06,414.37 435.05,414.31 C434.05,414.25 433.04,414.19 432.04,414.14 C431.03,414.08 430.03,414.02 429.02,413.97 C428.02,413.91 427.01,413.86 426.01,413.81 C425.00,413.76 424.00,413.71 423.00,413.66 C421.99,413.61 420.99,413.56 419.99,413.51 C418.98,413.46 417.98,413.42 416.98,413.37 C415.98,413.33 414.97,413.28 413.97,413.24 C412.97,413.20 411.97,413.15 410.97,413.11 C409.97,413.07 408.97,413.03 407.97,412.99 C406.97,412.95 405.97,412.92 404.97,412.88 C403.97,412.84 402.97,412.81 401.97,412.77 C400.98,412.74 399.98,412.70 398.98,412.67 C397.98,412.63 396.99,412.60 395.99,412.57 C394.99,412.54 394.00,412.51 393.00,412.48 C392.01,412.45 391.01,412.42 390.02,412.39 C389.03,412.36 387.54,412.32 387.04,412.31 L381.04,412.31 Z" fill="#dcfcdc"/></g>
<path d="M386.50,409.55 C387.17,409.56 389.19,409.57 390.54,409.57 C391.88,409.58 393.23,409.58 394.57,409.59 C395.92,409.59 397.26,409.60 398.61,409.61 C399.95,409.61 401.30,409.62 402.64,409.62 C403.99,409.63 405.33,409.63 406.68,409.64 C408.02,409.64 409.37,409.65 410.71,409.66 C412.06,409.66 413.40,409.67 414.75,409.68 C416.10,409.68 417.44,409.69 418.79,409.70 C420.13,409.70 421.48,409.71 422.82,409.72 C424.17,409.73 425.51,409.74 426.86,409.75 C428.20,409.75 429.55,409.76 430.89,409.77 C432.24,409.78 433.58,409.79 434.93,409.81 C436.27,409.82 437.62,409.83 438.96,409.84 C440.31,409.85 441.65,409.87 443.00,409.88 C444.35,409.90 445.69,409.91 447.04,409.93 C448.38,409.94 449.73,409.96 451.07,409.98 C452.42,410.00 453.76,410.02 455.11,410.03 C456.45,410.05 457.80,410.08 459.14,410.10 C460.49,410.12 461.83,410.14 463.18,410.17 C464.52,410.19 465.87,410.22 467.21,410.24 C468.56,410.27 469.90,410.30 471.25,410.33 C472.60,410.36 473.94,410.39 475.29,410.42 C476.63,410.45 477.98,410.48 479.32,410.52 C480.67,410.55 482.01,410.59 483.36,410.63 C484.70,410.67 486.05,410.71 487.39,410.75 C488.74,410.79 490.08,410.83 491.43,410.88 C492.77,410.92 494.12,410.97 495.46,411.01 C496.81,411.06 498.15,411.11 499.50,411.16 C500.85,411.21 502.19,411.27 503.54,411.32 C504.88,411.38 506.23,411.44 507.57,411.50 C508.92,411.55 510.26,411.62 511.61,411.68 C512.95,411.74 514.30,411.81 515.64,411.88 C516.99,411.94 518.33,412.01 519.68,412.09 C521.02,412.16 522.37,412.23 523.71,412.31 C525.06,412.39 526.40,412.46 527.75,412.55 C529.10,412.63 530.44,412.71 531.79,412.80 C533.13,412.88 534.48,412.97 535.82,413.06 C537.17,413.15 538.51,413.25 539.86,413.34 C541.20,413.44 542.55,413.54 543.89,413.64 C545.24,413.74 546.58,413.84 547.93,413.95 C549.27,414.06 550.62,414.16 551.96,414.27 C553.31,414.38 554.65,414.50 556.00,414.61 C557.35,414.73 558.69,414.84 560.04,414.96 C561.38,415.08 562.73,415.20 564.07,415.33 C565.42,415.45 566.76,415.57 568.11,415.70 C569.45,415.83 570.80,415.96 572.14,416.09 C573.49,416.22 574.83,416.35 576.18,416.48 C577.52,416.62 578.87,416.75 580.21,416.89 C581.56,417.03 582.90,417.17 584.25,417.31 C585.60,417.45 586.94,417.59 588.29,417.73 C589.63,417.87 590.98,418.02 592.32,418.16 C593.67,418.31 595.01,418.46 596.36,418.60 C597.70,418.75 599.05,418.90 600.39,419.05 C601.74,419.20 603.08,419.35 604.43,419.50 C605.77,419.66 607.12,419.81 608.46,419.96 C609.81,420.12 611.15,420.27 612.50,420.43 C613.85,420.58 615.19,420.74 616.54,420.89 C617.88,421.05 619.23,421.21 620.57,421.37 C621.92,421.53 623.26,421.68 624.61,421.84 C625.95,422.00 627.30,422.16 628.64,422.32 C629.99,422.48 631.33,422.64 632.68,422.80 C634.02,422.96 635.37,423.12 636.71,423.28 C638.06,423.45 639.40,423.61 640.75,423.77 C642.10,423.93 643.44,424.09 644.79,424.25 C646.13,424.41 647.48,424.57 648.82,424.73 C650.17,424.90 651.51,425.06 652.86,425.22 C654.20,425.38 655.55,425.54 656.89,425.70 C658.24,425.86 659.58,426.02 660.93,426.18 C662.27,426.34 663.62,426.49 664.96,426.65 C666.31,426.81 668.33,427.05 669.00,427.13" fill="none" stroke="#18ad18" stroke-width="1.5"/>
<rect x="385.70" y="265.90" width="283.00" height="204.40" fill="none" stroke="#1e1e1e" stroke-width="1.8"/>
<path d="M385.70,265.90h5M668.70,265.90h-5M385.70,295.10h5M668.70,295.10h-5M385.70,324.30h5M668.70,324.30h-5M385.70,353.50h5M668.70,353.50h-5M385.70,382.70h5M668.70,382.70h-5M385.70,411.90h5M668.70,411.90h-5M385.70,441.10h5M668.70,441.10h-5M385.70,470.30h5M668.70,470.30h-5M385.70,265.90v5M385.70,470.30v-5M442.30,265.90v5M442.30,470.30v-5M498.90,265.90v5M498.90,470.30v-5M555.50,265.90v5M555.50,470.30v-5M612.10,265.90v5M612.10,470.30v-5M668.70,265.90v5M668.70,470.30v-5" stroke="#1e1e1e" stroke-width="1.0" fill="none"/>
<path d="M394.10,319.70H424.40" stroke="#22b022" stroke-width="2"/>
<path d="M395.40,296.80L398.20,301.30" fill="none" stroke="#262626" stroke-width="1.15" stroke-linecap="round"/>
<path d="M398.20,301.70L404.00,290.20H413.60" fill="none" stroke="#262626" stroke-width="0.75"/>
<path d="M494.10,319.30h5.8M497.00,316.00v6.6" stroke="#262626" stroke-width="0.75" fill="none"/>
<path d="M516.20,319.30h5.8M519.10,316.00v6.6" stroke="#262626" stroke-width="0.75" fill="none"/>
<path d="M414.90,456.40H423.70M414.90,458.80H423.70" stroke="#262626" stroke-width="0.8" fill="none"/>
<path d="M448.30,456.40H456.60M448.30,458.80H456.60" stroke="#262626" stroke-width="0.8" fill="none"/>
<path d="M417.80,296.70H426.10M417.80,299.10H426.10" stroke="#262626" stroke-width="0.8" fill="none"/>
<path d="M427.70,282.10H433.90M430.80,279.10V285.20" stroke="#262626" stroke-width="0.7" fill="none"/>
<path d="M478.50,280.60H489.30" stroke="#262626" stroke-width="0.95" fill="none"/>
<path d="M487.70,278.30 q0.5,1.7 2.3,2.3 q-1.8,0.6 -2.3,2.3" stroke="#262626" stroke-width="0.85" fill="none" stroke-linecap="round"/>
<path d="M489.60,497.40H498.10M489.60,499.80H498.10" stroke="#262626" stroke-width="0.8" fill="none"/>
<path d="M524.20,497.40H533.10M524.20,499.80H533.10" stroke="#262626" stroke-width="0.8" fill="none"/>
<path d="M480.60,497.90 c0.5,-0.8 1,-0.8 1.6,-0.3 s1.1,0.5 1.6,-0.3" fill="none" stroke="#262626" stroke-width="0.8"/>
<path d="M514.20,497.90 c0.5,-0.8 1,-0.8 1.6,-0.3 s1.1,0.5 1.6,-0.3" fill="none" stroke="#262626" stroke-width="0.8"/>
<path d="M140.40,19.20 c0.6,-1 1.3,-1 2,-0.4 s1.4,0.6 2,-0.4" fill="none" stroke="#262626" stroke-width="1.05"/>
<path d="M146.80,19.20 c0.6,-1 1.3,-1 2,-0.4 s1.4,0.6 2,-0.4" fill="none" stroke="#262626" stroke-width="1.05"/>
<path d="M156.00,23.80h8.8M160.40,19.50v8.6" stroke="#262626" stroke-width="0.8" fill="none"/>
<path d="M496.10,19.20 c0.6,-1 1.3,-1 2,-0.4 s1.4,0.6 2,-0.4" fill="none" stroke="#262626" stroke-width="1.05"/>
<path d="M502.50,19.20 c0.6,-1 1.3,-1 2,-0.4 s1.4,0.6 2,-0.4" fill="none" stroke="#262626" stroke-width="1.05"/>
<path d="M515.70,23.80h8.8M520.10,19.50v8.6" stroke="#262626" stroke-width="0.8" fill="none"/>
<path d="M140.40,276.00 c0.6,-1 1.3,-1 2,-0.4 s1.4,0.6 2,-0.4" fill="none" stroke="#262626" stroke-width="1.05"/>
<path d="M146.80,276.00 c0.6,-1 1.3,-1 2,-0.4 s1.4,0.6 2,-0.4" fill="none" stroke="#262626" stroke-width="1.05"/>
<path d="M156.00,280.60h8.8M160.40,276.30v8.6" stroke="#262626" stroke-width="0.8" fill="none"/>
<path d="M496.10,276.00 c0.6,-1 1.3,-1 2,-0.4 s1.4,0.6 2,-0.4" fill="none" stroke="#262626" stroke-width="1.05"/>
<path d="M502.50,276.00 c0.6,-1 1.3,-1 2,-0.4 s1.4,0.6 2,-0.4" fill="none" stroke="#262626" stroke-width="1.05"/>
<path d="M511.20,280.60h8.8M515.60,276.30v8.6" stroke="#262626" stroke-width="0.8" fill="none"/>
<text x="-0.02" y="11.60" font-size="13.20" textLength="23.44" lengthAdjust="spacingAndGlyphs">2.00</text>
<text x="-0.02" y="40.80" font-size="13.20" textLength="23.44" lengthAdjust="spacingAndGlyphs">1.80</text>
<text x="-0.02" y="70.00" font-size="13.20" textLength="23.44" lengthAdjust="spacingAndGlyphs">1.60</text>
<text x="-0.02" y="99.20" font-size="13.20" textLength="23.44" lengthAdjust="spacingAndGlyphs">1.40</text>
<text x="-0.02" y="128.40" font-size="13.20" textLength="23.44" lengthAdjust="spacingAndGlyphs">1.20</text>
<text x="-0.02" y="157.60" font-size="13.20" textLength="23.44" lengthAdjust="spacingAndGlyphs">1.00</text>
<text x="-0.02" y="186.80" font-size="13.20" textLength="23.44" lengthAdjust="spacingAndGlyphs">0.80</text>
<text x="-0.02" y="216.00" font-size="13.20" textLength="23.44" lengthAdjust="spacingAndGlyphs">0.60</text>
<text x="18.04" y="227.90" font-size="13.20" textLength="27.19" lengthAdjust="spacingAndGlyphs">1000</text>
<text x="74.64" y="227.90" font-size="13.20" textLength="27.19" lengthAdjust="spacingAndGlyphs">1500</text>
<text x="131.89" y="227.90" font-size="13.20" textLength="26.53" lengthAdjust="spacingAndGlyphs">2000</text>
<text x="188.49" y="227.90" font-size="13.20" textLength="26.53" lengthAdjust="spacingAndGlyphs">2500</text>
<text x="244.87" y="227.90" font-size="13.20" textLength="26.74" lengthAdjust="spacingAndGlyphs">3000</text>
<text x="301.47" y="227.90" font-size="13.20" textLength="26.74" lengthAdjust="spacingAndGlyphs">3500</text>
<text x="73.94" y="65.30" font-size="8.60" textLength="44.42" lengthAdjust="spacingAndGlyphs">NLL/NLO</text>
<text x="121.95" y="65.30" font-size="8.60" textLength="15.70" lengthAdjust="spacingAndGlyphs">DIS</text>
<text x="145.46" y="65.30" font-size="8.60" textLength="13.11" lengthAdjust="spacingAndGlyphs">DY</text>
<text x="167.30" y="65.30" font-size="8.60" textLength="13.94" lengthAdjust="spacingAndGlyphs">top</text>
<text x="38.42" y="203.60" font-size="12.60" textLength="6.94" lengthAdjust="spacingAndGlyphs" font-style="italic">μ</text>
<text x="47.07" y="205.80" font-size="8.60" textLength="6.58" lengthAdjust="spacingAndGlyphs" font-style="italic">F</text>
<text x="72.52" y="203.60" font-size="12.60" textLength="7.15" lengthAdjust="spacingAndGlyphs" font-style="italic">μ</text>
<text x="81.18" y="205.80" font-size="8.60" textLength="7.04" lengthAdjust="spacingAndGlyphs" font-style="italic">R</text>
<text x="105.37" y="203.60" font-size="12.60" textLength="12.32" lengthAdjust="spacingAndGlyphs" font-style="italic">m</text>
<text x="49.90" y="43.90" font-size="12.60" textLength="7.54" lengthAdjust="spacingAndGlyphs" font-style="italic">S</text>
<text x="75.06" y="43.90" font-size="12.40" textLength="13.25" lengthAdjust="spacingAndGlyphs">13</text>
<text x="93.40" y="43.90" font-size="12.40" textLength="21.84" lengthAdjust="spacingAndGlyphs">TeV</text>
<text x="39.31" y="26.50" font-size="12.60" textLength="8.90" lengthAdjust="spacingAndGlyphs" font-style="italic">K</text>
<text x="49.54" y="28.00" font-size="8.60" textLength="21.63" lengthAdjust="spacingAndGlyphs">NLO</text>
<text x="79.04" y="28.00" font-size="8.60" textLength="20.06" lengthAdjust="spacingAndGlyphs">NLL</text>
<text x="99.92" y="27.20" font-size="14.00" textLength="4.03" lengthAdjust="spacingAndGlyphs">(</text>
<text x="105.70" y="26.60" font-size="12.00" textLength="12.80" lengthAdjust="spacingAndGlyphs" font-style="italic">pp</text>
<text x="112.22" y="244.60" font-size="12.60" textLength="11.11" lengthAdjust="spacingAndGlyphs" font-style="italic">m</text>
<text x="123.39" y="246.60" font-size="8.00" textLength="4.97" lengthAdjust="spacingAndGlyphs" font-style="italic">q</text>
<text x="147.03" y="244.60" font-size="12.60" textLength="10.78" lengthAdjust="spacingAndGlyphs" font-style="italic">m</text>
<text x="157.60" y="246.60" font-size="8.00" textLength="4.75" lengthAdjust="spacingAndGlyphs" font-style="italic">g</text>
<text x="181.29" y="244.60" font-size="12.60" textLength="11.77" lengthAdjust="spacingAndGlyphs" font-style="italic">m</text>
<text x="197.70" y="244.60" font-size="12.20" textLength="32.87" lengthAdjust="spacingAndGlyphs">[GeV]</text>
<text x="354.78" y="11.60" font-size="13.20" textLength="23.44" lengthAdjust="spacingAndGlyphs">2.00</text>
<text x="354.78" y="40.80" font-size="13.20" textLength="23.44" lengthAdjust="spacingAndGlyphs">1.80</text>
<text x="354.78" y="70.00" font-size="13.20" textLength="23.44" lengthAdjust="spacingAndGlyphs">1.60</text>
<text x="354.78" y="99.20" font-size="13.20" textLength="23.44" lengthAdjust="spacingAndGlyphs">1.40</text>
<text x="354.78" y="128.40" font-size="13.20" textLength="23.44" lengthAdjust="spacingAndGlyphs">1.20</text>
<text x="354.78" y="157.60" font-size="13.20" textLength="23.44" lengthAdjust="spacingAndGlyphs">1.00</text>
<text x="354.78" y="186.80" font-size="13.20" textLength="23.44" lengthAdjust="spacingAndGlyphs">0.80</text>
<text x="354.78" y="216.00" font-size="13.20" textLength="23.44" lengthAdjust="spacingAndGlyphs">0.60</text>
<text x="373.74" y="227.90" font-size="13.20" textLength="27.19" lengthAdjust="spacingAndGlyphs">1000</text>
<text x="430.34" y="227.90" font-size="13.20" textLength="27.19" lengthAdjust="spacingAndGlyphs">1500</text>
<text x="487.59" y="227.90" font-size="13.20" textLength="26.53" lengthAdjust="spacingAndGlyphs">2000</text>
<text x="544.19" y="227.90" font-size="13.20" textLength="26.53" lengthAdjust="spacingAndGlyphs">2500</text>
<text x="600.57" y="227.90" font-size="13.20" textLength="26.74" lengthAdjust="spacingAndGlyphs">3000</text>
<text x="657.17" y="227.90" font-size="13.20" textLength="26.74" lengthAdjust="spacingAndGlyphs">3500</text>
<text x="429.64" y="65.30" font-size="8.60" textLength="44.42" lengthAdjust="spacingAndGlyphs">NLL/NLO</text>
<text x="477.65" y="65.30" font-size="8.60" textLength="15.70" lengthAdjust="spacingAndGlyphs">DIS</text>
<text x="501.16" y="65.30" font-size="8.60" textLength="13.11" lengthAdjust="spacingAndGlyphs">DY</text>
<text x="523.00" y="65.30" font-size="8.60" textLength="13.94" lengthAdjust="spacingAndGlyphs">top</text>
<text x="394.12" y="203.60" font-size="12.60" textLength="6.94" lengthAdjust="spacingAndGlyphs" font-style="italic">μ</text>
<text x="402.77" y="205.80" font-size="8.60" textLength="6.58" lengthAdjust="spacingAndGlyphs" font-style="italic">F</text>
<text x="428.22" y="203.60" font-size="12.60" textLength="7.15" lengthAdjust="spacingAndGlyphs" font-style="italic">μ</text>
<text x="436.88" y="205.80" font-size="8.60" textLength="7.04" lengthAdjust="spacingAndGlyphs" font-style="italic">R</text>
<text x="461.07" y="203.60" font-size="12.60" textLength="12.32" lengthAdjust="spacingAndGlyphs" font-style="italic">m</text>
<text x="405.60" y="43.90" font-size="12.60" textLength="7.54" lengthAdjust="spacingAndGlyphs" font-style="italic">S</text>
<text x="430.76" y="43.90" font-size="12.40" textLength="13.25" lengthAdjust="spacingAndGlyphs">13</text>
<text x="449.10" y="43.90" font-size="12.40" textLength="21.84" lengthAdjust="spacingAndGlyphs">TeV</text>
<text x="395.01" y="26.50" font-size="12.60" textLength="8.90" lengthAdjust="spacingAndGlyphs" font-style="italic">K</text>
<text x="405.24" y="28.00" font-size="8.60" textLength="21.63" lengthAdjust="spacingAndGlyphs">NLO</text>
<text x="434.74" y="28.00" font-size="8.60" textLength="20.06" lengthAdjust="spacingAndGlyphs">NLL</text>
<text x="455.62" y="27.20" font-size="14.00" textLength="4.03" lengthAdjust="spacingAndGlyphs">(</text>
<text x="461.40" y="26.60" font-size="12.00" textLength="12.80" lengthAdjust="spacingAndGlyphs" font-style="italic">pp</text>
<text x="467.92" y="244.60" font-size="12.60" textLength="11.11" lengthAdjust="spacingAndGlyphs" font-style="italic">m</text>
<text x="479.09" y="246.60" font-size="8.00" textLength="4.97" lengthAdjust="spacingAndGlyphs" font-style="italic">q</text>
<text x="502.73" y="244.60" font-size="12.60" textLength="10.78" lengthAdjust="spacingAndGlyphs" font-style="italic">m</text>
<text x="513.30" y="246.60" font-size="8.00" textLength="4.75" lengthAdjust="spacingAndGlyphs" font-style="italic">g</text>
<text x="536.99" y="244.60" font-size="12.60" textLength="11.77" lengthAdjust="spacingAndGlyphs" font-style="italic">m</text>
<text x="553.40" y="244.60" font-size="12.20" textLength="32.87" lengthAdjust="spacingAndGlyphs">[GeV]</text>
<text x="-0.02" y="268.40" font-size="13.20" textLength="23.44" lengthAdjust="spacingAndGlyphs">2.00</text>
<text x="-0.02" y="297.60" font-size="13.20" textLength="23.44" lengthAdjust="spacingAndGlyphs">1.80</text>
<text x="-0.02" y="326.80" font-size="13.20" textLength="23.44" lengthAdjust="spacingAndGlyphs">1.60</text>
<text x="-0.02" y="356.00" font-size="13.20" textLength="23.44" lengthAdjust="spacingAndGlyphs">1.40</text>
<text x="-0.02" y="385.20" font-size="13.20" textLength="23.44" lengthAdjust="spacingAndGlyphs">1.20</text>
<text x="-0.02" y="414.40" font-size="13.20" textLength="23.44" lengthAdjust="spacingAndGlyphs">1.00</text>
<text x="-0.02" y="443.60" font-size="13.20" textLength="23.44" lengthAdjust="spacingAndGlyphs">0.80</text>
<text x="-0.02" y="472.80" font-size="13.20" textLength="23.44" lengthAdjust="spacingAndGlyphs">0.60</text>
<text x="18.04" y="484.70" font-size="13.20" textLength="27.19" lengthAdjust="spacingAndGlyphs">1000</text>
<text x="74.64" y="484.70" font-size="13.20" textLength="27.19" lengthAdjust="spacingAndGlyphs">1500</text>
<text x="131.89" y="484.70" font-size="13.20" textLength="26.53" lengthAdjust="spacingAndGlyphs">2000</text>
<text x="188.49" y="484.70" font-size="13.20" textLength="26.53" lengthAdjust="spacingAndGlyphs">2500</text>
<text x="244.87" y="484.70" font-size="13.20" textLength="26.74" lengthAdjust="spacingAndGlyphs">3000</text>
<text x="301.47" y="484.70" font-size="13.20" textLength="26.74" lengthAdjust="spacingAndGlyphs">3500</text>
<text x="73.94" y="322.10" font-size="8.60" textLength="44.42" lengthAdjust="spacingAndGlyphs">NLL/NLO</text>
<text x="121.95" y="322.10" font-size="8.60" textLength="15.70" lengthAdjust="spacingAndGlyphs">DIS</text>
<text x="145.46" y="322.10" font-size="8.60" textLength="13.11" lengthAdjust="spacingAndGlyphs">DY</text>
<text x="167.30" y="322.10" font-size="8.60" textLength="13.94" lengthAdjust="spacingAndGlyphs">top</text>
<text x="38.42" y="460.40" font-size="12.60" textLength="6.94" lengthAdjust="spacingAndGlyphs" font-style="italic">μ</text>
<text x="47.07" y="462.60" font-size="8.60" textLength="6.58" lengthAdjust="spacingAndGlyphs" font-style="italic">F</text>
<text x="72.52" y="460.40" font-size="12.60" textLength="7.15" lengthAdjust="spacingAndGlyphs" font-style="italic">μ</text>
<text x="81.18" y="462.60" font-size="8.60" textLength="7.04" lengthAdjust="spacingAndGlyphs" font-style="italic">R</text>
<text x="105.37" y="460.40" font-size="12.60" textLength="12.32" lengthAdjust="spacingAndGlyphs" font-style="italic">m</text>
<text x="49.90" y="300.70" font-size="12.60" textLength="7.54" lengthAdjust="spacingAndGlyphs" font-style="italic">S</text>
<text x="75.06" y="300.70" font-size="12.40" textLength="13.25" lengthAdjust="spacingAndGlyphs">13</text>
<text x="93.40" y="300.70" font-size="12.40" textLength="21.84" lengthAdjust="spacingAndGlyphs">TeV</text>
<text x="39.31" y="283.30" font-size="12.60" textLength="8.90" lengthAdjust="spacingAndGlyphs" font-style="italic">K</text>
<text x="49.54" y="284.80" font-size="8.60" textLength="21.63" lengthAdjust="spacingAndGlyphs">NLO</text>
<text x="79.04" y="284.80" font-size="8.60" textLength="20.06" lengthAdjust="spacingAndGlyphs">NLL</text>
<text x="99.92" y="284.00" font-size="14.00" textLength="4.03" lengthAdjust="spacingAndGlyphs">(</text>
<text x="105.70" y="283.40" font-size="12.00" textLength="12.80" lengthAdjust="spacingAndGlyphs" font-style="italic">pp</text>
<text x="112.22" y="501.40" font-size="12.60" textLength="11.11" lengthAdjust="spacingAndGlyphs" font-style="italic">m</text>
<text x="123.39" y="503.40" font-size="8.00" textLength="4.97" lengthAdjust="spacingAndGlyphs" font-style="italic">q</text>
<text x="147.03" y="501.40" font-size="12.60" textLength="10.78" lengthAdjust="spacingAndGlyphs" font-style="italic">m</text>
<text x="157.60" y="503.40" font-size="8.00" textLength="4.75" lengthAdjust="spacingAndGlyphs" font-style="italic">g</text>
<text x="181.29" y="501.40" font-size="12.60" textLength="11.77" lengthAdjust="spacingAndGlyphs" font-style="italic">m</text>
<text x="197.70" y="501.40" font-size="12.20" textLength="32.87" lengthAdjust="spacingAndGlyphs">[GeV]</text>
<text x="354.78" y="268.40" font-size="13.20" textLength="23.44" lengthAdjust="spacingAndGlyphs">2.00</text>
<text x="354.78" y="297.60" font-size="13.20" textLength="23.44" lengthAdjust="spacingAndGlyphs">1.80</text>
<text x="354.78" y="326.80" font-size="13.20" textLength="23.44" lengthAdjust="spacingAndGlyphs">1.60</text>
<text x="354.78" y="356.00" font-size="13.20" textLength="23.44" lengthAdjust="spacingAndGlyphs">1.40</text>
<text x="354.78" y="385.20" font-size="13.20" textLength="23.44" lengthAdjust="spacingAndGlyphs">1.20</text>
<text x="354.78" y="414.40" font-size="13.20" textLength="23.44" lengthAdjust="spacingAndGlyphs">1.00</text>
<text x="354.78" y="443.60" font-size="13.20" textLength="23.44" lengthAdjust="spacingAndGlyphs">0.80</text>
<text x="354.78" y="472.80" font-size="13.20" textLength="23.44" lengthAdjust="spacingAndGlyphs">0.60</text>
<text x="373.74" y="484.70" font-size="13.20" textLength="27.19" lengthAdjust="spacingAndGlyphs">1000</text>
<text x="430.34" y="484.70" font-size="13.20" textLength="27.19" lengthAdjust="spacingAndGlyphs">1500</text>
<text x="487.59" y="484.70" font-size="13.20" textLength="26.53" lengthAdjust="spacingAndGlyphs">2000</text>
<text x="544.19" y="484.70" font-size="13.20" textLength="26.53" lengthAdjust="spacingAndGlyphs">2500</text>
<text x="600.57" y="484.70" font-size="13.20" textLength="26.74" lengthAdjust="spacingAndGlyphs">3000</text>
<text x="657.17" y="484.70" font-size="13.20" textLength="26.74" lengthAdjust="spacingAndGlyphs">3500</text>
<text x="429.64" y="322.10" font-size="8.60" textLength="44.42" lengthAdjust="spacingAndGlyphs">NLL/NLO</text>
<text x="477.65" y="322.10" font-size="8.60" textLength="15.70" lengthAdjust="spacingAndGlyphs">DIS</text>
<text x="501.16" y="322.10" font-size="8.60" textLength="13.11" lengthAdjust="spacingAndGlyphs">DY</text>
<text x="523.00" y="322.10" font-size="8.60" textLength="13.94" lengthAdjust="spacingAndGlyphs">top</text>
<text x="394.12" y="460.40" font-size="12.60" textLength="6.94" lengthAdjust="spacingAndGlyphs" font-style="italic">μ</text>
<text x="402.77" y="462.60" font-size="8.60" textLength="6.58" lengthAdjust="spacingAndGlyphs" font-style="italic">F</text>
<text x="428.22" y="460.40" font-size="12.60" textLength="7.15" lengthAdjust="spacingAndGlyphs" font-style="italic">μ</text>
<text x="436.88" y="462.60" font-size="8.60" textLength="7.04" lengthAdjust="spacingAndGlyphs" font-style="italic">R</text>
<text x="461.07" y="460.40" font-size="12.60" textLength="12.32" lengthAdjust="spacingAndGlyphs" font-style="italic">m</text>
<text x="405.60" y="300.70" font-size="12.60" textLength="7.54" lengthAdjust="spacingAndGlyphs" font-style="italic">S</text>
<text x="430.76" y="300.70" font-size="12.40" textLength="13.25" lengthAdjust="spacingAndGlyphs">13</text>
<text x="449.10" y="300.70" font-size="12.40" textLength="21.84" lengthAdjust="spacingAndGlyphs">TeV</text>
<text x="395.01" y="283.30" font-size="12.60" textLength="8.90" lengthAdjust="spacingAndGlyphs" font-style="italic">K</text>
<text x="405.24" y="284.80" font-size="8.60" textLength="21.63" lengthAdjust="spacingAndGlyphs">NLO</text>
<text x="434.74" y="284.80" font-size="8.60" textLength="20.06" lengthAdjust="spacingAndGlyphs">NLL</text>
<text x="455.62" y="284.00" font-size="14.00" textLength="4.03" lengthAdjust="spacingAndGlyphs">(</text>
<text x="461.40" y="283.40" font-size="12.00" textLength="12.80" lengthAdjust="spacingAndGlyphs" font-style="italic">pp</text>
<text x="467.92" y="501.40" font-size="12.60" textLength="11.11" lengthAdjust="spacingAndGlyphs" font-style="italic">m</text>
<text x="479.09" y="503.40" font-size="8.00" textLength="4.97" lengthAdjust="spacingAndGlyphs" font-style="italic">q</text>
<text x="502.73" y="501.40" font-size="12.60" textLength="10.78" lengthAdjust="spacingAndGlyphs" font-style="italic">m</text>
<text x="513.30" y="503.40" font-size="8.00" textLength="4.75" lengthAdjust="spacingAndGlyphs" font-style="italic">g</text>
<text x="536.99" y="501.40" font-size="12.60" textLength="11.77" lengthAdjust="spacingAndGlyphs" font-style="italic">m</text>
<text x="553.40" y="501.40" font-size="12.20" textLength="32.87" lengthAdjust="spacingAndGlyphs">[GeV]</text>
<text x="138.70" y="26.60" font-size="12.00" textLength="6.50" lengthAdjust="spacingAndGlyphs" font-style="italic">g</text>
<text x="145.60" y="26.60" font-size="12.00" textLength="6.71" lengthAdjust="spacingAndGlyphs" font-style="italic">g</text>
<text x="169.52" y="26.50" font-size="12.60" textLength="9.38" lengthAdjust="spacingAndGlyphs" font-style="italic">X</text>
<text x="180.00" y="27.20" font-size="14.00" textLength="4.26" lengthAdjust="spacingAndGlyphs">)</text>
<text x="493.97" y="26.60" font-size="12.00" textLength="6.95" lengthAdjust="spacingAndGlyphs" font-style="italic">q</text>
<text x="500.85" y="26.60" font-size="12.00" textLength="7.17" lengthAdjust="spacingAndGlyphs" font-style="italic">q</text>
<text x="507.33" y="23.40" font-size="9.50" textLength="3.94" lengthAdjust="spacingAndGlyphs" stroke="#262626" stroke-width="0.3">*</text>
<text x="529.22" y="26.50" font-size="12.60" textLength="9.38" lengthAdjust="spacingAndGlyphs" font-style="italic">X</text>
<text x="539.70" y="27.20" font-size="14.00" textLength="4.26" lengthAdjust="spacingAndGlyphs">)</text>
<text x="138.27" y="283.40" font-size="12.00" textLength="6.95" lengthAdjust="spacingAndGlyphs" font-style="italic">q</text>
<text x="145.60" y="283.40" font-size="12.00" textLength="6.71" lengthAdjust="spacingAndGlyphs" font-style="italic">g</text>
<text x="169.52" y="283.30" font-size="12.60" textLength="9.38" lengthAdjust="spacingAndGlyphs" font-style="italic">X</text>
<text x="180.00" y="284.00" font-size="14.00" textLength="4.26" lengthAdjust="spacingAndGlyphs">)</text>
<text x="493.97" y="283.40" font-size="12.00" textLength="6.95" lengthAdjust="spacingAndGlyphs" font-style="italic">q</text>
<text x="500.85" y="283.40" font-size="12.00" textLength="7.17" lengthAdjust="spacingAndGlyphs" font-style="italic">q</text>
<text x="524.72" y="283.30" font-size="12.60" textLength="9.38" lengthAdjust="spacingAndGlyphs" font-style="italic">X</text>
<text x="535.20" y="284.00" font-size="14.00" textLength="4.26" lengthAdjust="spacingAndGlyphs">)</text>
</svg></body></html>
